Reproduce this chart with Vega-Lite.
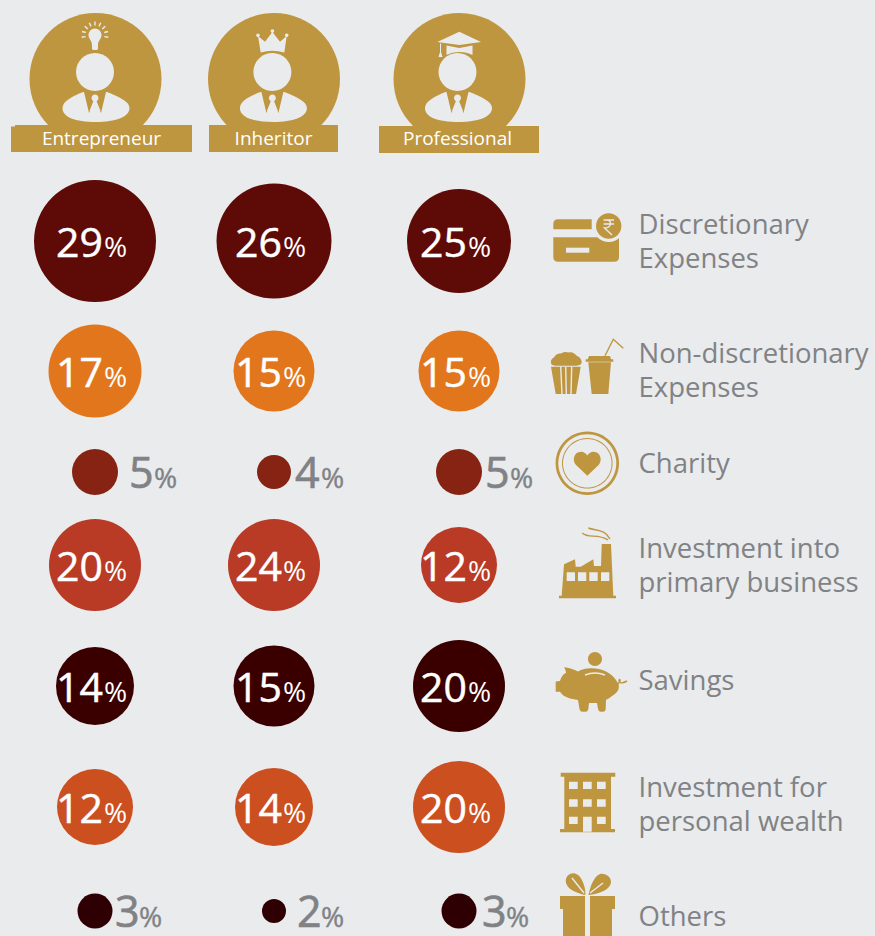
{
"$schema":"https://vega.github.io/schema/vega-lite/v6.json",
"width":875,"height":936,"padding":0,"autosize":{"type":"none"},"background":"#E9EBED",
"config":{"view":{"stroke":null},"axis":{"disable":true}},
"datasets":{
"shares":[
{"persona":"Entrepreneur","column":1,"category":"Discretionary Expenses","row":1,"share":29},
{"persona":"Inheritor","column":2,"category":"Discretionary Expenses","row":1,"share":26},
{"persona":"Professional","column":3,"category":"Discretionary Expenses","row":1,"share":25},
{"persona":"Entrepreneur","column":1,"category":"Non-discretionary Expenses","row":2,"share":17},
{"persona":"Inheritor","column":2,"category":"Non-discretionary Expenses","row":2,"share":15},
{"persona":"Professional","column":3,"category":"Non-discretionary Expenses","row":2,"share":15},
{"persona":"Entrepreneur","column":1,"category":"Charity","row":3,"share":5},
{"persona":"Inheritor","column":2,"category":"Charity","row":3,"share":4},
{"persona":"Professional","column":3,"category":"Charity","row":3,"share":5},
{"persona":"Entrepreneur","column":1,"category":"Investment into primary business","row":4,"share":20},
{"persona":"Inheritor","column":2,"category":"Investment into primary business","row":4,"share":24},
{"persona":"Professional","column":3,"category":"Investment into primary business","row":4,"share":12},
{"persona":"Entrepreneur","column":1,"category":"Savings","row":5,"share":14},
{"persona":"Inheritor","column":2,"category":"Savings","row":5,"share":15},
{"persona":"Professional","column":3,"category":"Savings","row":5,"share":20},
{"persona":"Entrepreneur","column":1,"category":"Investment for personal wealth","row":6,"share":12},
{"persona":"Inheritor","column":2,"category":"Investment for personal wealth","row":6,"share":14},
{"persona":"Professional","column":3,"category":"Investment for personal wealth","row":6,"share":20},
{"persona":"Entrepreneur","column":1,"category":"Others","row":7,"share":3},
{"persona":"Inheritor","column":2,"category":"Others","row":7,"share":2},
{"persona":"Professional","column":3,"category":"Others","row":7,"share":3}
],
"categories":[
{"label":"Discretionary\nExpenses","row":1},
{"label":"Non-discretionary\nExpenses","row":2},
{"label":"Charity","row":3},
{"label":"Investment into\nprimary business","row":4},
{"label":"Savings","row":5},
{"label":"Investment for\npersonal wealth","row":6},
{"label":"Others","row":7}
],
"personas":[{"persona":"Entrepreneur","column":1},{"persona":"Inheritor","column":2},{"persona":"Professional","column":3}],
"badges":[
{"part":"disc","column":1},{"part":"disc","column":2},{"part":"disc","column":3},
{"part":"banner1","column":1},{"part":"banner2","column":2},{"part":"banner3","column":3}
],
"figures":[
{"part":"head","tone":"paper","column":1},{"part":"head","tone":"paper","column":2},{"part":"head","tone":"paper","column":3},
{"part":"shoulders","tone":"paper","column":1},{"part":"shoulders","tone":"paper","column":2},{"part":"shoulders","tone":"paper","column":3},
{"part":"vee","tone":"gold","column":1},{"part":"vee","tone":"gold","column":2},{"part":"vee","tone":"gold","column":3},
{"part":"tie","tone":"paper","column":1},{"part":"tie","tone":"paper","column":2},{"part":"tie","tone":"paper","column":3},
{"part":"bulb","tone":"paper","column":1},{"part":"crown","tone":"paper","column":2},{"part":"cap","tone":"paper","column":3}
],
"icons":[
{"part":"cardTop","tone":"gold","row":1},{"part":"cardBody","tone":"gold","row":1},{"part":"coinHalo","tone":"paper","row":1},{"part":"coin","tone":"gold","row":1},{"part":"slot","tone":"paper","row":1},
{"part":"popcorn","tone":"gold","row":2},{"part":"cup","tone":"gold","row":2},
{"part":"ringOuter","tone":"gold","row":3},{"part":"ringGap","tone":"paper","row":3},{"part":"ringInner","tone":"gold","row":3},{"part":"ringCore","tone":"paper","row":3},{"part":"heart","tone":"gold","row":3},
{"part":"factory","tone":"gold","row":4},{"part":"factoryWindows","tone":"paper","row":4},
{"part":"pig","tone":"gold","row":5},
{"part":"building","tone":"gold","row":6},{"part":"buildingWindows","tone":"paper","row":6},
{"part":"gift","tone":"gold","row":7},{"part":"ribbon","tone":"paper","row":7}
],
"strokes":[
{"part":"rays","tone":"paper","column":1,"row":0},
{"part":"rupee","tone":"paper","column":4,"row":1},
{"part":"straw","tone":"gold","column":4,"row":2},
{"part":"stripes","tone":"paper","column":4,"row":2},
{"part":"smoke","tone":"gold","column":4,"row":4},
{"part":"pigDetail","tone":"gold","column":4,"row":5},
{"part":"pigSmile","tone":"paper","column":4,"row":5},
{"part":"bowSlits","tone":"paper","column":4,"row":7}
]
},
"resolve":{"scale":{"x":"independent","y":"independent","size":"independent","shape":"independent","color":"independent"}},
"layer":[
{"data":{"name":"badges"},
 "mark":{"type":"point","filled":true,"size":4,"opacity":1,"color":"#BF9640"},
 "encoding":{
  "x":{"field":"column","type":"quantitative","axis":null,"scale":{"domain":[1,2,3],"range":[95.5,274,459.5]}},
  "y":{"datum":0,"type":"quantitative","axis":null,"scale":{"domain":[0,1],"range":[79,241]}},
  "shape":{"field":"part","type":"nominal","legend":null,"scale":{"domain":["disc","banner1","banner2","banner3"],"range":[
   "M-66 0A66 66 0 1 1 66 0A66 66 0 1 1 -66 0Z",
   "M-80.5 46L96.5 46L96.5 73L-84.5 73L-84.5 47.5L-80.5 47.5Z",
   "M-65 46L64 46L64 73L-65 73Z",
   "M-80.5 47L79.5 47L79.5 74L-80.5 74Z"]}}
 }},
{"data":{"name":"figures"},
 "mark":{"type":"point","filled":true,"size":4,"opacity":1},
 "encoding":{
  "x":{"field":"column","type":"quantitative","axis":null,"scale":{"domain":[1,2,3],"range":[95,272.4,457.5]}},
  "y":{"datum":0,"type":"quantitative","axis":null,"scale":{"domain":[0,1],"range":[79,241]}},
  "color":{"field":"tone","type":"nominal","legend":null,"scale":{"domain":["gold","paper"],"range":["#BF9640","#E9EBED"]}},
  "shape":{"field":"part","type":"nominal","legend":null,"scale":{"domain":["head","shoulders","vee","tie","bulb","crown","cap"],"range":[
   "M-19 -7A19 19 0 1 1 19 -7A19 19 0 1 1 -19 -7Z",
   "M-32.5 29C-32.5 22 -22 17 -12 13L12 13C22 17 34.5 22 34.5 29C34.5 38 20 43 1 43C-20 43 -32.5 38 -32.5 29Z",
   "M-11 13L11 13L6 34L1 24L-1 24L-6 34Z",
   "M-3.5 19A3.5 3.5 0 1 1 3.5 19A3.5 3.5 0 1 1 -3.5 19ZM-1.6 22L1.6 22L5.5 32L1 36L-1 36L-5.5 32Z",
   "M0 -50.5C3.8 -50.5 6.5 -47.5 6.5 -44C6.5 -40 3 -38.5 3 -34L3 -30.5Q3 -29 0 -29Q-3 -29 -3 -30.5L-3 -34C-3 -38.5 -6.5 -40 -6.5 -44C-6.5 -47.5 -3.8 -50.5 0 -50.5Z",
   "M-14.4 -43L-7.4 -37.3L0 -47L7.6 -37.3L14.3 -43L11.9 -26.5Q0 -30 -11.7 -26.5ZM-16.2 -43.7A1.8 1.8 0 1 1 -12.6 -43.7A1.8 1.8 0 1 1 -16.2 -43.7ZM-1.8 -48A1.8 1.8 0 1 1 1.8 -48A1.8 1.8 0 1 1 -1.8 -48ZM12.5 -43.7A1.8 1.8 0 1 1 16.1 -43.7A1.8 1.8 0 1 1 12.5 -43.7Z",
   "M-20.2 -37L1.8 -47.3L23.5 -37L1.8 -34ZM-11 -33.5L1.8 -31L15 -33.5L15 -24C8 -28 -4 -28 -11 -24ZM-17.5 -35.5L-16.5 -35.5L-16.5 -27L-15 -22L-19 -22L-17.5 -27Z"]}}
 }},
{"data":{"name":"icons"},
 "mark":{"type":"point","filled":true,"size":4,"opacity":1},
 "encoding":{
  "x":{"datum":4,"type":"quantitative","axis":null,"scale":{"domain":[1,4],"range":[95,586]}},
  "y":{"field":"row","type":"quantitative","axis":null,"scale":{"domain":[1,2,3,4,5,6,7],"range":[241,371,472,565,686,807,911]}},
  "color":{"field":"tone","type":"nominal","legend":null,"scale":{"domain":["gold","paper"],"range":["#BF9640","#E9EBED"]}},
  "shape":{"field":"part","type":"nominal","legend":null,"scale":{"domain":["cardTop","cardBody","coinHalo","coin","slot","popcorn","cup","ringOuter","ringGap","ringInner","ringCore","heart","factory","factoryWindows","pig","building","buildingWindows","gift","ribbon"],"range":[
   "M-32.7 -11.7L-32.7 -17Q-32.7 -21.7 -28 -21.7L5.7 -21.7L5.7 -11.7Z",
   "M-32.7 -3.7L33 -3.7L33 16Q33 20.7 28 20.7L-28 20.7Q-32.7 20.7 -32.7 16Z",
   "M6.7 -15A16 16 0 1 1 38.7 -15A16 16 0 1 1 6.7 -15Z",
   "M10 -15A12.7 12.7 0 1 1 35.4 -15A12.7 12.7 0 1 1 10 -15Z",
   "M-20 6.7L3.3 6.7L3.3 11.7L-20 11.7Z",
   "M-35 -8C-36 -12 -32 -13 -31 -15C-29 -18 -26 -17 -24 -18C-21 -20 -18 -18 -16 -18.7C-13 -19 -11 -17 -9 -15C-6 -14 -4 -11 -4.3 -8C-5 -6 -8 -5.3 -10 -5.3L-30 -5.3C-33 -5.3 -35 -6 -35 -8ZM-35 -4.3L-5.3 -4.3L-10 23L-30.3 23Z",
   "M1.7 -11.7L3 -15L24 -15L25 -11.7L27.3 -11.7L27.3 -9.3L-0.3 -9.3L-0.3 -11.7ZM2.3 -8.7L25 -8.7L22.3 23L5.7 23Z",
   "M-30.4 -8.7A31.7 31.7 0 1 1 33 -8.7A31.7 31.7 0 1 1 -30.4 -8.7Z",
   "M-27.7 -8.7A29 29 0 1 1 30.3 -8.7A29 29 0 1 1 -27.7 -8.7Z",
   "M-24 -8.7A25.3 25.3 0 1 1 26.6 -8.7A25.3 25.3 0 1 1 -24 -8.7Z",
   "M-23 -8.7A24.3 24.3 0 1 1 25.6 -8.7A24.3 24.3 0 1 1 -23 -8.7Z",
   "M1.3 3.7L-10 -7C-14 -11 -12.5 -20.3 -5 -20.3C-2 -20.3 0 -18.5 1.3 -16.5C2.6 -18.5 4.6 -20.3 7.6 -20.3C15 -20.3 16.5 -11 12.6 -7Z",
   "M-22 -0.7L-11 -5.7L-10.3 1.7L-5.3 1.7L7.3 -5.7L8 1L15 1L15.7 -21L25 -21L27.3 30.7L30 30.7L30 33.3L-27 33.3L-27 30.7L-24.3 30.7Z",
   "M-19.3 7.3L-11 7.3L-11 16L-19.3 16ZM-8 7.3L0.3 7.3L0.3 16L-8 16ZM3.3 7.3L11.7 7.3L11.7 16L3.3 16ZM15 7.3L23.3 7.3L23.3 16L15 16Z",
   "M2 -27A7 7 0 1 1 16 -27A7 7 0 1 1 2 -27ZM-30.3 -4.5L-26 -5C-25 -9 -23 -12 -20 -13C-20 -15 -21 -17 -22 -18.7C-17 -18.5 -12 -16.5 -8 -14.5C-2 -19 22 -22 32 -3C34 1 33 6 26 10C24 12 21 13 20 14L19.7 23Q19.5 25.7 17 25.7L14.5 25.7Q12.5 25.7 12 23L11 17L3 17L2.3 23Q2 25.7 0 25.7L-4 25.7Q-6 25.7 -6.5 23L-8 14C-15 13 -23 11 -26 5.7L-30.3 5.7Z",
   "M-25.3 -34.3L29.3 -34.3L29.3 -30.3L25 -30.3L25 22L29 22L29 25.3L-26 25.3L-26 22L-21.7 22L-21.7 -30.3L-25.3 -30.3Z",
   "M-17 -25.3L-8.3 -25.3L-8.3 -18L-17 -18ZM-3 -25.3L5.7 -25.3L5.7 -18L-3 -18ZM11 -25.3L19.7 -25.3L19.7 -18L11 -18ZM-17 -7.7L-8.3 -7.7L-8.3 -0.3L-17 -0.3ZM-3 -7.7L5.7 -7.7L5.7 -0.3L-3 -0.3ZM11 -7.7L19.7 -7.7L19.7 -0.3L11 -0.3ZM-17 9.7L-8.3 9.7L-8.3 17L-17 17ZM-3 9.7L5.7 9.7L5.7 24.7L-3 24.7ZM11 9.7L19.7 9.7L19.7 17L11 17Z",
   "M-26 -15L29 -15L29 -2L26 -2L26 30L-23 30L-23 -2L-26 -2ZM-0.7 -16C-10 -18 -20 -22 -20.3 -30C-20 -37 -13 -40 -8 -36C-3 -32 0 -22 -0.7 -16ZM2.5 -16C4 -24 8 -35 14 -37C20 -38 25 -34 25 -29C25 -22 14 -17 2.5 -16Z",
   "M-1 -15L4 -15L4 30L-1 30Z"]}}
 }},
{"data":{"name":"strokes"},
 "mark":{"type":"point","filled":false,"size":4,"opacity":1,"strokeWidth":1.4},
 "encoding":{
  "x":{"field":"column","type":"quantitative","axis":null,"scale":{"domain":[1,4],"range":[95,586]}},
  "y":{"field":"row","type":"quantitative","axis":null,"scale":{"domain":[0,1,2,3,4,5,6,7],"range":[79,241,371,472,565,686,807,911]}},
  "stroke":{"field":"tone","type":"nominal","legend":null,"scale":{"domain":["gold","paper"],"range":["#BF9640","#E9EBED"]}},
  "shape":{"field":"part","type":"nominal","legend":null,"scale":{"domain":["rays","rupee","straw","stripes","smoke","pigDetail","pigSmile","bowSlits"],"range":[
   "M0 -53.5L0 -57.5M4 -52.6L5.7 -56.2M-4 -52.6L-5.7 -56.2M7.3 -50.1L10.3 -52.7M-7.3 -50.1L-10.3 -52.7M9.2 -46.5L13 -47.5M-9.2 -46.5L-13 -47.5M9.4 -42.4L13.3 -41.7M-9.4 -42.4L-13.3 -41.7",
   "M17.6 -21L28 -21M17.6 -17L28 -17M21 -21C26 -21 26 -13 18.5 -13L26 -6",
   "M19 -15.3L27.3 -31.7L37.3 -22.7",
   "M-25.3 -4.3L-24 23M-20.3 -4.3L-19.7 23M-14.3 -4.3L-15 23",
   "M-3.7 -32C2 -26 12 -32 22 -25M2.3 -37C10 -34 19 -36 24 -26",
   "M32 -2C36 -6 33 -8 33 -5C34 -2 37 -3 41 -5",
   "M-1 -11Q9 -15 19 -11",
   "M-14 -33L-2 -18M17 -28L4 -18"]}}
 }},
{"data":{"name":"personas"},
 "mark":{"type":"text","font":"Open Sans","fontSize":19,"align":"center","baseline":"middle","color":"#FFFFFF"},
 "encoding":{
  "x":{"field":"column","type":"quantitative","axis":null,"scale":{"domain":[1,2,3],"range":[101.5,273.5,457.5]}},
  "y":{"datum":0,"type":"quantitative","axis":null,"scale":{"domain":[0,1],"range":[139,241]}},
  "text":{"field":"persona","type":"nominal"}
 }},
{"data":{"name":"shares"},
 "mark":{"type":"circle","opacity":1},
 "encoding":{
  "x":{"field":"column","type":"quantitative","axis":null,"scale":{"domain":[1,2,3],"range":[95,274,459]}},
  "y":{"field":"row","type":"quantitative","axis":null,"scale":{"domain":[1,2,3,4,5,6,7],"range":[241,371,472,565,686,807,911]}},
  "size":{"field":"share","type":"quantitative","legend":null,"scale":{"domain":[2,3,4,5,12,14,15,17,20,24,25,26,29],"range":[576,1225,1156,2116,5776,6084,6561,8649,8464,8464,10816,13225,14884]}},
  "color":{"field":"category","type":"nominal","legend":null,"scale":{"domain":["Discretionary Expenses","Non-discretionary Expenses","Charity","Investment into primary business","Savings","Investment for personal wealth","Others"],"range":["#5E0B07","#E2761C","#862312","#B93A25","#3A0000","#CC4F20","#2E0003"]}}
 }},
{"data":{"name":"shares"},"transform":[{"filter":"datum.share>5"}],
 "mark":{"type":"text","font":"Open Sans","fontSize":41,"align":"right","baseline":"alphabetic","dx":8,"dy":16,"color":"#FFFFFF","stroke":"#FFFFFF","strokeWidth":0.5},
 "encoding":{
  "x":{"field":"column","type":"quantitative","axis":null,"scale":{"domain":[1,2,3],"range":[95,274,459]}},
  "y":{"field":"row","type":"quantitative","axis":null,"scale":{"domain":[1,2,3,4,5,6,7],"range":[241,371,472,565,686,807,911]}},
  "text":{"field":"share","type":"quantitative","format":"d"}
 }},
{"data":{"name":"shares"},"transform":[{"filter":"datum.share>5"}],
 "mark":{"type":"text","font":"Open Sans","fontSize":28,"align":"left","baseline":"alphabetic","dx":9,"dy":16,"color":"#FFFFFF"},
 "encoding":{
  "x":{"field":"column","type":"quantitative","axis":null,"scale":{"domain":[1,2,3],"range":[95,274,459]}},
  "y":{"field":"row","type":"quantitative","axis":null,"scale":{"domain":[1,2,3,4,5,6,7],"range":[241,371,472,565,686,807,911]}},
  "text":{"value":"%"}
 }},
{"data":{"name":"shares"},"transform":[{"filter":"datum.row==3"}],
 "mark":{"type":"text","font":"Open Sans","fontSize":43,"align":"left","baseline":"alphabetic","dy":16,"color":"#808285","stroke":"#808285","strokeWidth":0.7},
 "encoding":{
  "x":{"field":"column","type":"quantitative","axis":null,"scale":{"domain":[1,2,3],"range":[129,295,485]}},
  "y":{"datum":3,"type":"quantitative","axis":null,"scale":{"domain":[1,3],"range":[241,472]}},
  "text":{"field":"share","type":"quantitative","format":"d"}
 }},
{"data":{"name":"shares"},"transform":[{"filter":"datum.row==3"}],
 "mark":{"type":"text","font":"Open Sans","fontSize":28,"align":"left","baseline":"alphabetic","dy":16,"color":"#808285","stroke":"#808285","strokeWidth":0.4},
 "encoding":{
  "x":{"field":"column","type":"quantitative","axis":null,"scale":{"domain":[1,2,3],"range":[154,321,510]}},
  "y":{"datum":3,"type":"quantitative","axis":null,"scale":{"domain":[1,3],"range":[241,472]}},
  "text":{"value":"%"}
 }},
{"data":{"name":"shares"},"transform":[{"filter":"datum.row==7"}],
 "mark":{"type":"text","font":"Open Sans","fontSize":43,"align":"left","baseline":"alphabetic","dy":16,"color":"#808285","stroke":"#808285","strokeWidth":0.7},
 "encoding":{
  "x":{"field":"column","type":"quantitative","axis":null,"scale":{"domain":[1,2,3],"range":[115,297,482]}},
  "y":{"datum":7,"type":"quantitative","axis":null,"scale":{"domain":[1,7],"range":[241,911]}},
  "text":{"field":"share","type":"quantitative","format":"d"}
 }},
{"data":{"name":"shares"},"transform":[{"filter":"datum.row==7"}],
 "mark":{"type":"text","font":"Open Sans","fontSize":28,"align":"left","baseline":"alphabetic","dy":16,"color":"#808285","stroke":"#808285","strokeWidth":0.4},
 "encoding":{
  "x":{"field":"column","type":"quantitative","axis":null,"scale":{"domain":[1,2,3],"range":[139,321,506]}},
  "y":{"datum":7,"type":"quantitative","axis":null,"scale":{"domain":[1,7],"range":[241,911]}},
  "text":{"value":"%"}
 }},
{"data":{"name":"categories"},
 "mark":{"type":"text","font":"Open Sans","fontSize":27.5,"align":"left","baseline":"middle","lineBreak":"\n","lineHeight":34,"color":"#808285"},
 "encoding":{
  "x":{"datum":5,"type":"quantitative","axis":null,"scale":{"domain":[1,5],"range":[95,638.5]}},
  "y":{"field":"row","type":"quantitative","axis":null,"scale":{"domain":[1,2,3,4,5,6,7],"range":[226,355,465,550,682,789,918]}},
  "text":{"field":"label","type":"nominal"}
 }}
]}
